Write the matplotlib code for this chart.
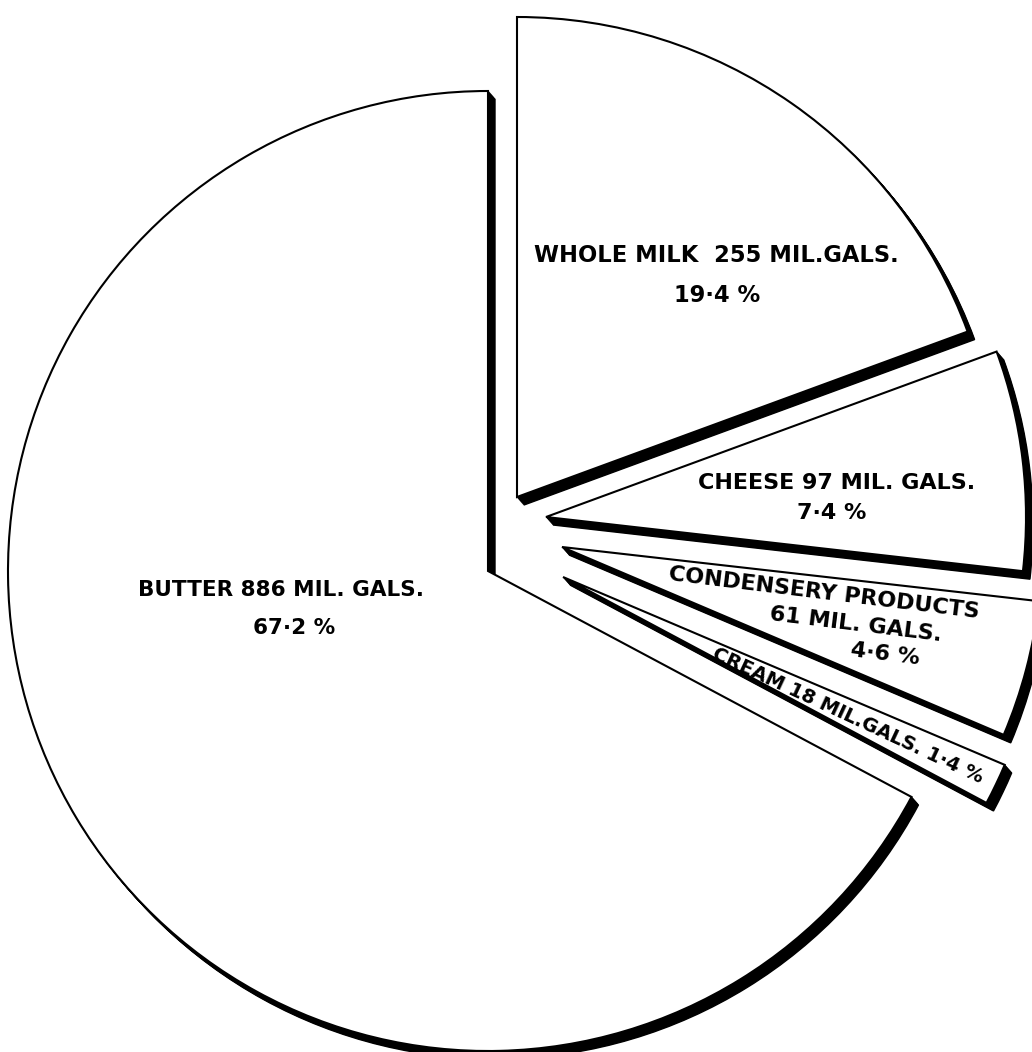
import matplotlib
matplotlib.use("Agg")
import matplotlib.pyplot as plt
from matplotlib.patches import Wedge
import numpy as np

# ---- data (clockwise from 12 o'clock) ----
categories = ["WHOLE MILK", "CHEESE", "CONDENSERY PRODUCTS", "CREAM", "BUTTER"]
gallons_mil = [255, 97, 61, 18, 886]
percent = [19.4, 7.4, 4.6, 1.4, 67.2]

# ---- layout (pixels) ----
W, H = 1032, 1052
center_px = (488, 571)
radius = 480
explode_px = [(29, -74), (58, -54), (74, -24), (75, 6), (0, 0)]  # (dx, dy) screen px, y down
shadow = (7, 8)  # screen px, y down

fig = plt.figure(figsize=(W / 100, H / 100), dpi=100)
ax = fig.add_axes([0, 0, 1, 1])
ax.set_xlim(0, W)
ax.set_ylim(H, 0)  # pixel coordinates, y down
ax.axis("off")

wedges = []
theta = -90.0  # top of circle on screen in y-down coords
for i, p in enumerate(percent):
    sweep = p / 100 * 360
    t1, t2 = theta, theta + sweep
    theta = t2
    cx = center_px[0] + explode_px[i][0]
    cy = center_px[1] + explode_px[i][1]
    wedges.append((cx, cy, t1, t2))

# extruded shadow
for cx, cy, t1, t2 in wedges:
    for k in np.linspace(0.15, 1.0, 8):
        ax.add_patch(Wedge((cx + k * shadow[0], cy + k * shadow[1]), radius, t1, t2,
                           facecolor="black", edgecolor="black", lw=1.0, zorder=1))
for cx, cy, t1, t2 in wedges:
    ax.add_patch(Wedge((cx, cy), radius, t1, t2, facecolor="white",
                       edgecolor="black", lw=1.5, zorder=2))

def pct(v):
    return f"{v}".replace(".", "\u00b7") + " %"

font = dict(family=["DejaVu Sans"], weight="bold", color="black",
            ha="center", va="center", zorder=3)

lab = {
    0: [f"{categories[0]}  {gallons_mil[0]} MIL.GALS.", pct(percent[0])],
    1: [f"{categories[1]} {gallons_mil[1]} MIL. GALS.", pct(percent[1])],
    2: [categories[2], f"{gallons_mil[2]} MIL. GALS.", pct(percent[2])],
    3: [f"{categories[3]} {gallons_mil[3]} MIL.GALS. {pct(percent[3])}"],
    4: [f"{categories[4]} {gallons_mil[4]} MIL. GALS.", pct(percent[4])],
}
pos = {
    0: [(716, 255), (717, 295)],
    1: [(837, 483), (832, 513)],
    2: [(824, 593), (856, 625), (885, 654)],
    3: [(848, 716)],
    4: [(281, 590), (294, 628)],
}
rot = {0: 0, 1: 0, 2: -7, 3: -25, 4: 0}
size = {0: 16.3, 1: 16, 2: 16, 3: 14, 4: 15.5}

for i in lab:
    for t, (x, y) in zip(lab[i], pos[i]):
        ax.text(x, y, t, fontsize=size[i], rotation=rot[i], rotation_mode="anchor", **font)

fig.savefig("out.png", dpi=100, facecolor="white")
